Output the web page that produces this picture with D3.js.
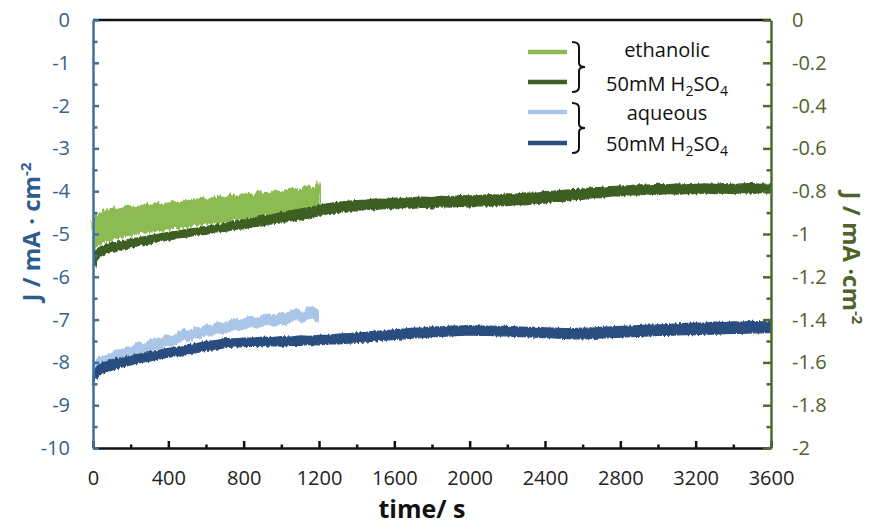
<!DOCTYPE html>
<html>
<head>
<meta charset="utf-8">
<script src="https://cdn.jsdelivr.net/npm/d3@7/dist/d3.min.js"></script>
<style>
  html, body { margin: 0; padding: 0; background: #ffffff; }
  svg { display: block; font-family: "Open Sans", "DejaVu Sans", sans-serif; }
</style>
</head>
<body>
<svg id="chart" width="871" height="527"></svg>
<script>
// ---------------- DATA ----------------
const xTicks = [0, 400, 800, 1200, 1600, 2000, 2400, 2800, 3200, 3600];
const xMinorTicks = [200, 600, 1000, 1400, 1800, 2200, 2600, 3000, 3400];
const leftTicks = [0, -1, -2, -3, -4, -5, -6, -7, -8, -9, -10];
const leftMinorTicks = [-0.5, -1.5, -2.5, -3.5, -4.5, -5.5, -6.5, -7.5, -8.5, -9.5];
const rightTicks = [0, -0.2, -0.4, -0.6, -0.8, -1, -1.2, -1.4, -1.6, -1.8, -2];
const rightMinorTicks = [-0.1, -0.3, -0.5, -0.7, -0.9, -1.1, -1.3, -1.5, -1.7, -1.9];

const legendLabels = ["ethanolic", "aqueous"];

// ethanolic 50mM H2SO4, short run (light green): time, upper and lower edge of noisy band (J, mA cm-2)
const ethShortT  = [0, 20, 40, 60, 80, 100, 130, 160, 190, 220, 250, 280, 310, 340, 370, 400, 430, 460, 490, 520, 550, 580, 610, 640, 670, 700, 730, 760, 790, 820, 850, 880, 910, 940, 970, 1000, 1030, 1060, 1090, 1120, 1150, 1180, 1195, 1200];
const ethShortHi = [-4.70, -4.52, -4.49, -4.44, -4.45, -4.38, -4.42, -4.39, -4.33, -4.38, -4.34, -4.30, -4.33, -4.26, -4.31, -4.27, -4.23, -4.28, -4.20, -4.22, -4.19, -4.15, -4.20, -4.14, -4.12, -4.16, -4.07, -4.12, -4.08, -4.05, -4.09, -4.01, -4.06, -4.02, -3.97, -4.03, -3.96, -3.93, -3.99, -3.90, -3.88, -3.95, -3.80, -3.95];
const ethShortLo = [-5.35, -5.28, -5.22, -5.19, -5.14, -5.13, -5.08, -5.06, -5.03, -5.02, -4.98, -4.98, -4.95, -4.94, -4.91, -4.90, -4.87, -4.87, -4.84, -4.83, -4.80, -4.79, -4.77, -4.76, -4.73, -4.72, -4.69, -4.68, -4.66, -4.65, -4.62, -4.61, -4.58, -4.57, -4.54, -4.53, -4.50, -4.49, -4.46, -4.45, -4.42, -4.41, -4.39, -4.38];

// ethanolic 50mM H2SO4, long run (dark green)
const ethLongT  = [0, 10, 20, 35, 50, 75, 100, 150, 200, 250, 300, 350, 400, 450, 500, 550, 600, 650, 700, 750, 800, 850, 900, 950, 1000, 1050, 1100, 1150, 1200, 1250, 1300, 1350, 1400, 1450, 1500, 1550, 1600, 1650, 1700, 1750, 1800, 1850, 1900, 1950, 2000, 2050, 2100, 2150, 2200, 2250, 2300, 2350, 2400, 2450, 2500, 2550, 2600, 2650, 2700, 2750, 2800, 2850, 2900, 2950, 3000, 3050, 3100, 3150, 3200, 3250, 3300, 3350, 3400, 3450, 3500, 3550, 3600];
const ethLongHi = [-5.55, -5.42, -5.35, -5.31, -5.28, -5.25, -5.21, -5.17, -5.12, -5.08, -5.04, -5.00, -4.96, -4.93, -4.89, -4.86, -4.82, -4.79, -4.75, -4.71, -4.66, -4.63, -4.58, -4.55, -4.50, -4.46, -4.42, -4.38, -4.33, -4.29, -4.26, -4.24, -4.22, -4.21, -4.18, -4.19, -4.16, -4.17, -4.15, -4.14, -4.15, -4.12, -4.13, -4.10, -4.11, -4.10, -4.08, -4.09, -4.06, -4.07, -4.04, -4.05, -4.01, -4.00, -3.98, -3.96, -3.95, -3.92, -3.91, -3.89, -3.88, -3.87, -3.85, -3.86, -3.84, -3.85, -3.83, -3.85, -3.84, -3.83, -3.84, -3.82, -3.84, -3.83, -3.82, -3.84, -3.83];
const ethLongLo = [-5.95, -5.75, -5.62, -5.54, -5.49, -5.45, -5.43, -5.36, -5.32, -5.26, -5.23, -5.17, -5.15, -5.09, -5.07, -5.02, -5.01, -4.95, -4.94, -4.89, -4.88, -4.83, -4.81, -4.76, -4.74, -4.69, -4.67, -4.61, -4.58, -4.52, -4.51, -4.46, -4.46, -4.42, -4.43, -4.40, -4.41, -4.38, -4.40, -4.37, -4.39, -4.36, -4.37, -4.35, -4.37, -4.34, -4.35, -4.33, -4.34, -4.31, -4.32, -4.28, -4.28, -4.24, -4.24, -4.20, -4.19, -4.15, -4.15, -4.11, -4.11, -4.08, -4.09, -4.06, -4.08, -4.05, -4.07, -4.05, -4.06, -4.04, -4.06, -4.04, -4.06, -4.03, -4.05, -4.03, -4.05];

// aqueous 50mM H2SO4, short run (light blue)
const aqShortT  = [0, 15, 30, 60, 90, 120, 150, 180, 210, 240, 270, 300, 330, 360, 390, 420, 450, 480, 510, 540, 570, 600, 630, 660, 690, 720, 750, 780, 810, 840, 870, 900, 930, 960, 990, 1020, 1050, 1080, 1110, 1140, 1170, 1185, 1200];
const aqShortHi = [-8.05, -7.95, -7.90, -7.85, -7.80, -7.72, -7.70, -7.64, -7.62, -7.52, -7.58, -7.48, -7.44, -7.46, -7.36, -7.40, -7.30, -7.22, -7.28, -7.18, -7.20, -7.12, -7.16, -7.06, -7.10, -7.04, -6.98, -7.04, -6.96, -6.92, -6.98, -6.90, -6.86, -6.92, -6.84, -6.88, -6.80, -6.76, -6.84, -6.72, -6.70, -6.76, -6.78];
const aqShortLo = [-8.45, -8.25, -8.12, -8.06, -8.02, -7.96, -7.92, -7.88, -7.84, -7.76, -7.80, -7.72, -7.68, -7.70, -7.60, -7.62, -7.54, -7.46, -7.52, -7.42, -7.44, -7.36, -7.38, -7.30, -7.34, -7.28, -7.22, -7.26, -7.20, -7.16, -7.20, -7.14, -7.10, -7.16, -7.08, -7.12, -7.04, -7.00, -7.06, -6.98, -6.96, -7.02, -7.04];

// aqueous 50mM H2SO4, long run (dark blue)
const aqLongT  = ethLongT;
const aqLongHi = [-8.25, -8.18, -8.10, -8.05, -8.01, -7.98, -7.94, -7.89, -7.84, -7.80, -7.75, -7.72, -7.67, -7.64, -7.59, -7.56, -7.51, -7.49, -7.45, -7.45, -7.43, -7.43, -7.41, -7.42, -7.40, -7.41, -7.38, -7.39, -7.37, -7.37, -7.34, -7.33, -7.31, -7.30, -7.27, -7.26, -7.24, -7.22, -7.20, -7.19, -7.17, -7.17, -7.15, -7.15, -7.14, -7.15, -7.15, -7.16, -7.16, -7.17, -7.18, -7.18, -7.19, -7.20, -7.21, -7.21, -7.20, -7.20, -7.18, -7.17, -7.16, -7.15, -7.14, -7.13, -7.12, -7.12, -7.10, -7.09, -7.08, -7.08, -7.06, -7.07, -7.05, -7.06, -7.04, -7.05, -7.05];
const aqLongLo = [-8.55, -8.45, -8.35, -8.28, -8.25, -8.21, -8.18, -8.11, -8.06, -8.00, -7.97, -7.92, -7.88, -7.84, -7.80, -7.77, -7.72, -7.69, -7.66, -7.64, -7.63, -7.62, -7.63, -7.61, -7.62, -7.60, -7.60, -7.58, -7.59, -7.57, -7.57, -7.55, -7.54, -7.52, -7.50, -7.48, -7.46, -7.45, -7.43, -7.42, -7.40, -7.39, -7.38, -7.37, -7.36, -7.37, -7.37, -7.38, -7.38, -7.40, -7.40, -7.41, -7.42, -7.43, -7.44, -7.45, -7.45, -7.44, -7.43, -7.42, -7.41, -7.40, -7.39, -7.38, -7.37, -7.37, -7.36, -7.35, -7.35, -7.34, -7.34, -7.33, -7.32, -7.32, -7.31, -7.31, -7.30];

// ---------------- CHART ----------------
const svg = d3.select("#chart");
const X0 = 93, X1 = 771, Y0 = 20, Y1 = 448;

const x = d3.scaleLinear().domain([0, 3600]).range([X0, X1]);
const yL = d3.scaleLinear().domain([-10, 0]).range([Y1, Y0]);
const yR = d3.scaleLinear().domain([-2, 0]).range([Y1, Y0]);

const cLightGreen = "#8cba52", cDarkGreen = "#3e5e24", cLightBlue = "#a9c6e8", cDarkBlue = "#2b4d7f";
const cLeftAxis = "#41709f", cLeftText = "#34618f", cRightAxis = "#4e6b2c", cRightText = "#4f6228";

// edge-roughening filters (visual style for the noisy signal bands)
const defs = svg.append("defs");
function roughFilter(id, freq, scale, seed) {
  const f = defs.append("filter").attr("id", id)
    .attr("x", "-2%").attr("y", "-30%").attr("width", "104%").attr("height", "160%");
  f.append("feTurbulence").attr("type", "fractalNoise").attr("baseFrequency", freq)
    .attr("numOctaves", 2).attr("seed", seed).attr("result", "n");
  f.append("feDisplacementMap").attr("in", "SourceGraphic").attr("in2", "n")
    .attr("scale", scale).attr("xChannelSelector", "A").attr("yChannelSelector", "R");
}
roughFilter("roughBig", "0.45 0.02", 7, 3);
roughFilter("roughSmall", "0.5 0.03", 4, 7);

function band(T, Hi, Lo, color, filterId) {
  const idx = d3.range(T.length);
  const area = d3.area()
    .x(i => x(T[i]))
    .y0(i => yL(Lo[i]))
    .y1(i => yL(Hi[i]));
  svg.append("path")
    .datum(idx)
    .attr("d", area)
    .attr("fill", color)
    .attr("stroke", color)
    .attr("stroke-width", 1.2)
    .attr("stroke-linejoin", "miter")
    .attr("filter", `url(#${filterId})`);
}

band(ethShortT, ethShortHi, ethShortLo, cLightGreen, "roughBig");
band(aqShortT, aqShortHi, aqShortLo, cLightBlue, "roughSmall");
band(ethLongT, ethLongHi, ethLongLo, cDarkGreen, "roughSmall");
band(aqLongT, aqLongHi, aqLongLo, cDarkBlue, "roughSmall");

// top border
svg.append("line").attr("x1", X0).attr("x2", X1).attr("y1", Y0).attr("y2", Y0)
  .attr("stroke", "#111").attr("stroke-width", 2.5);

const fmt = d => (d === 0 ? "0" : String(+d.toFixed(1)));

// bottom axis
const gx = svg.append("g").attr("transform", `translate(0,${Y1})`);
gx.call(d3.axisBottom(x).tickValues(xTicks).tickFormat(d => String(d)).tickSizeInner(-7).tickSizeOuter(0).tickPadding(23));
const gxm = svg.append("g").attr("transform", `translate(0,${Y1})`);
gxm.call(d3.axisBottom(x).tickValues(xMinorTicks).tickFormat("").tickSizeInner(-3.5).tickSizeOuter(0));
gxm.select(".domain").remove();
[gx, gxm].forEach(g => {
  g.selectAll(".domain").attr("stroke", "#111").attr("stroke-width", 2.5);
  g.selectAll(".tick line").attr("stroke", "#111").attr("stroke-width", 2.5);
});
gx.selectAll(".tick text").attr("font-size", 20).attr("fill", "#222").attr("font-family", "Open Sans");

// left axis
const gl = svg.append("g").attr("transform", `translate(${X0},0)`);
gl.call(d3.axisLeft(yL).tickValues(leftTicks).tickFormat(fmt).tickSizeInner(-6).tickSizeOuter(0).tickPadding(23));
const glm = svg.append("g").attr("transform", `translate(${X0},0)`);
glm.call(d3.axisLeft(yL).tickValues(leftMinorTicks).tickFormat("").tickSizeInner(-4.5).tickSizeOuter(0));
glm.select(".domain").remove();
gl.select(".domain").attr("stroke", cLeftAxis).attr("stroke-width", 2.5);
[gl, glm].forEach(g => g.selectAll(".tick line").attr("stroke", cLeftAxis).attr("stroke-width", 2.5));
gl.selectAll(".tick text").attr("font-size", 20).attr("fill", cLeftText).attr("font-family", "Open Sans");

// right axis
const gr = svg.append("g").attr("transform", `translate(${X1},0)`);
gr.call(d3.axisRight(yR).tickValues(rightTicks).tickFormat(fmt).tickSizeInner(-8).tickSizeOuter(0).tickPadding(21));
const grm = svg.append("g").attr("transform", `translate(${X1},0)`);
grm.call(d3.axisRight(yR).tickValues(rightMinorTicks).tickFormat("").tickSizeInner(-4.5).tickSizeOuter(0));
grm.select(".domain").remove();
gr.select(".domain").attr("stroke", cRightAxis).attr("stroke-width", 2.5);
[gr, grm].forEach(g => g.selectAll(".tick line").attr("stroke", cRightAxis).attr("stroke-width", 2.5));
gr.selectAll(".tick text").attr("font-size", 20).attr("fill", cRightText).attr("font-family", "Open Sans");

// axis titles
svg.append("text").attr("x", 422).attr("y", 518).attr("text-anchor", "middle")
  .attr("font-size", 25).attr("font-weight", "bold").attr("fill", "#111").text("time/ s");

const lt = svg.append("text").attr("transform", "translate(40,232) rotate(-90)")
  .attr("text-anchor", "middle").attr("font-size", 24).attr("font-weight", "bold").attr("fill", "#2e5c8c");
lt.append("tspan").text("J / mA · cm");
lt.append("tspan").attr("dy", -9).attr("font-size", 15).text("-2");

const rt = svg.append("text").attr("transform", "translate(843,258) rotate(90)")
  .attr("text-anchor", "middle").attr("font-size", 24).attr("font-weight", "bold").attr("fill", cRightText);
rt.append("tspan").text("J / mA ·cm");
rt.append("tspan").attr("dy", -9).attr("font-size", 15).text("-2");

// legend
const legendItems = [
  { color: cLightGreen, y: 52 },
  { color: cDarkGreen, y: 82 },
  { color: cLightBlue, y: 112 },
  { color: cDarkBlue, y: 143 }
];
const lg = svg.append("g");
lg.selectAll("line").data(legendItems).enter().append("line")
  .attr("x1", 528).attr("x2", 567)
  .attr("y1", d => d.y).attr("y2", d => d.y)
  .attr("stroke", d => d.color).attr("stroke-width", 4.5);

function brace(yTop, yBot) {
  const m = (yTop + yBot) / 2, xa = 572, xb = 579, xc = 585;
  const p = `M${xa},${yTop} Q${xb},${yTop} ${xb},${yTop + 5} L${xb},${m - 4} Q${xb},${m} ${xc},${m} Q${xb},${m} ${xb},${m + 4} L${xb},${yBot - 5} Q${xb},${yBot} ${xa},${yBot}`;
  lg.append("path").attr("d", p).attr("fill", "none").attr("stroke", "#111").attr("stroke-width", 2);
}
brace(42, 92);
brace(103, 153);

function legendText(label, yTop, yBot) {
  lg.append("text").attr("x", 667).attr("y", yTop).attr("text-anchor", "middle")
    .attr("font-size", 20).attr("fill", "#111").text(label);
  const t = lg.append("text").attr("x", 667).attr("y", yBot).attr("text-anchor", "middle")
    .attr("font-size", 20).attr("fill", "#111");
  t.append("tspan").text("50mM H");
  t.append("tspan").attr("dy", 5).attr("font-size", 14).text("2");
  t.append("tspan").attr("dy", -5).text("SO");
  t.append("tspan").attr("dy", 5).attr("font-size", 14).text("4");
}
legendText(legendLabels[0], 57, 91);
legendText(legendLabels[1], 120, 151);
</script>
</body>
</html>
